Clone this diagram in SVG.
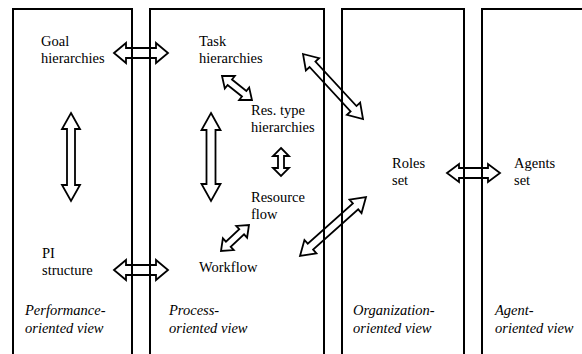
<svg xmlns="http://www.w3.org/2000/svg" width="582" height="354" viewBox="0 0 582 354">
<style>
.col{fill:none;stroke:#000;stroke-width:2}
.arr{fill:none;stroke:#000;stroke-width:1.8;stroke-linejoin:miter}
</style>
<rect width="582" height="354" fill="#fff"/>
<g id="views">
<path class="col" d="M13,354 V9 H132 V354"/>
<path class="col" d="M150,354 V9 H324 V354"/>
<path class="col" d="M342,354 V9 H464 V354"/>
<path class="col" d="M482,354 V9 H583"/>
</g>
<g id="connectors">
<path class="arr" transform="translate(114,53)" d="M0,0 L12,-10 L12,-5 L42,-5 L42,-10 L54,0 L42,10 L42,5 L12,5 L12,10 Z"/>
<path class="arr" transform="translate(71,113) rotate(90)" d="M0,0 L16,-9 L16,-4 L72,-4 L72,-9 L88,0 L72,9 L72,4 L16,4 L16,9 Z"/>
<path class="arr" transform="translate(222,76) rotate(38.7)" d="M0,0 L10,-8 L10,-3.5 L28.4,-3.5 L28.4,-8 L38.4,0 L28.4,8 L28.4,3.5 L10,3.5 L10,8 Z"/>
<path class="arr" transform="translate(303,54) rotate(47.3)" d="M0,0 L14,-9 L14,-4 L74.5,-4 L74.5,-9 L88.5,0 L74.5,9 L74.5,4 L14,4 L14,9 Z"/>
<path class="arr" transform="translate(211,113) rotate(90)" d="M0,0 L17,-9.5 L17,-4.5 L71,-4.5 L71,-9.5 L88,0 L71,9.5 L71,4.5 L17,4.5 L17,9.5 Z"/>
<path class="arr" transform="translate(281,148) rotate(90)" d="M0,0 L8,-8 L8,-3 L20,-3 L20,-8 L28,0 L20,8 L20,3 L8,3 L8,8 Z"/>
<path class="arr" transform="translate(221,251) rotate(-42.9)" d="M0,0 L10,-8 L10,-3.5 L28.2,-3.5 L28.2,-8 L38.2,0 L28.2,8 L28.2,3.5 L10,3.5 L10,8 Z"/>
<path class="arr" transform="translate(300,256) rotate(-41.8)" d="M0,0 L14,-9 L14,-4 L74.5,-4 L74.5,-9 L88.5,0 L74.5,9 L74.5,4 L14,4 L14,9 Z"/>
<path class="arr" transform="translate(114,270)" d="M0,0 L12,-10 L12,-5 L42,-5 L42,-10 L54,0 L42,10 L42,5 L12,5 L12,10 Z"/>
<path class="arr" transform="translate(447,173)" d="M0,0 L12,-9 L12,-5 L41,-5 L41,-9 L53,0 L41,9 L41,5 L12,5 L12,9 Z"/>
</g>
<g font-family="'Liberation Serif', serif" font-size="14.5" fill="#000">
<g id="goal"><text x="41" y="46">Goal</text><text x="41" y="63">hierarchies</text></g>
<g id="pi"><text x="42" y="258">PI</text><text x="42" y="275">structure</text></g>
<g id="task"><text x="199" y="46">Task</text><text x="199" y="63">hierarchies</text></g>
<g id="restype"><text x="251" y="115">Res. type</text><text x="251" y="132">hierarchies</text></g>
<g id="resflow"><text x="251" y="202">Resource</text><text x="251" y="219">flow</text></g>
<g id="workflow"><text x="199" y="272">Workflow</text></g>
<g id="roles"><text x="392" y="168">Roles</text><text x="392" y="185">set</text></g>
<g id="agents"><text x="514" y="168">Agents</text><text x="514" y="185">set</text></g>
<g id="view-labels" font-style="italic">
<text x="25" y="315">Performance-</text><text x="25" y="333">oriented view</text>
<text x="169" y="315">Process-</text><text x="169" y="333">oriented view</text>
<text x="353" y="315">Organization-</text><text x="353" y="333">oriented view</text>
<text x="495" y="315">Agent-</text><text x="495" y="333">oriented view</text>
</g>
</g>
</svg>
